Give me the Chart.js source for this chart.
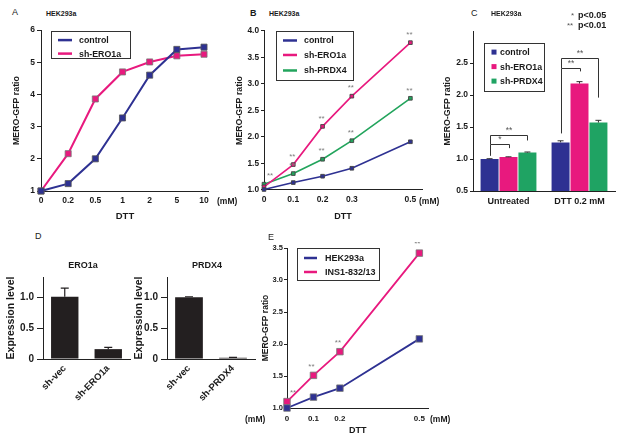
<!DOCTYPE html>
<html><head><meta charset="utf-8">
<script src="https://cdn.jsdelivr.net/npm/chart.js@4.4.1/dist/chart.umd.min.js"></script>
<style>
html,body{margin:0;padding:0;background:#fff;}
#root{position:relative;width:625px;height:442px;overflow:hidden;background:#fff;}
canvas{position:absolute;}
</style></head>
<body><div id="root"></div>
<script>
// ---------------- DATA ----------------
// Panel A
const doseLabelsA = ['0','0.2','0.5','1','2','5','10'];
const controlA = [1.0, 1.23, 2.0, 3.27, 4.6, 5.4, 5.47];
const ero1aA   = [1.0, 2.16, 3.86, 4.7, 5.01, 5.2, 5.25];
// Panel B
const doseB    = [0, 0.1, 0.2, 0.3, 0.5];
const controlB = [1.01, 1.14, 1.26, 1.41, 1.91];
const ero1aB   = [1.06, 1.48, 2.20, 2.77, 3.78];
const prdx4B   = [1.11, 1.31, 1.58, 1.93, 2.73];
const ero1aSigB = ['', '**', '**', '**', '**'];
const prdx4SigB = ['**', '**', '**', '**', '**'];
// Panel C
const groupsC   = ['Untreated', 'DTT 0.2 mM'];
const controlC  = [1.0, 1.26];
const ero1aC    = [1.03, 2.18];
const prdx4C    = [1.10, 1.57];
const controlErrC = [0.005, 0.025];
const ero1aErrC   = [0.005, 0.03];
const prdx4ErrC   = [0.01, 0.035];
// brackets: [group, fromSeries, toSeries, topValue, leftEndValue, rightEndValue, label]
const bracketsC = [
  [0, 0, 1, 1.23, 1.05, 1.17, '*'],
  [0, 0, 2, 1.37, 1.23, 1.29, '**'],
  [1, 0, 1, 2.42, 1.40, 2.37, '**'],
  [1, 0, 2, 2.58, 2.42, 1.96, '**']
];
// Panel D
const labelsD1 = ['sh-vec', 'sh-ERO1a'];
const valuesD1 = [1.01, 0.16];
const errD1    = [0.14, 0.03];
const labelsD2 = ['sh-vec', 'sh-PRDX4'];
const valuesD2 = [1.0, 0.02];
const errD2    = [0.01, 0.005];
// Panel E
const doseE  = [0, 0.1, 0.2, 0.5];
const hekE   = [1.0, 1.17, 1.31, 2.08];
const ins1E  = [1.10, 1.51, 1.88, 3.42];
const ins1SigE = ['**', '**', '**', '**'];

// ---------------- STYLE ----------------
const FONT = "'Liberation Sans', Arial, Helvetica, sans-serif";
const BLUE = '#2e3192', MAG = '#e8197e', GREEN = '#22a45c', GREENC = '#1fa363';
Chart.defaults.font.family = FONT;
Chart.defaults.color = '#1a1a1a';
const root = document.getElementById('root');

function text(t, x, y, size, o = {}) {
  const d = document.createElement('div');
  d.textContent = t;
  d.style.cssText = `position:absolute;white-space:nowrap;font:${o.bold ? 'bold ' : ''}${size}px ${FONT};` +
    `line-height:${size * 1.2}px;top:${y - size * 0.6}px;left:${x}px;color:${o.color || '#1a1a1a'};`;
  if (o.center) d.style.transform = 'translateX(-50%)';
  root.appendChild(d);
}

// ---------------- PLUGINS ----------------
const boxLegend = {
  id: 'boxLegend',
  afterDatasetsDraw(chart, args, o) {
    if (!o || !o.box) return;
    const { ctx, chartArea: a } = chart;
    ctx.save();
    const [bx, by, bw, bh] = o.box;
    ctx.fillStyle = '#fff';
    ctx.fillRect(a.left + bx, a.top + by, bw, bh);
    ctx.strokeStyle = '#333'; ctx.lineWidth = 1;
    ctx.strokeRect(Math.round(a.left + bx) + 0.5, Math.round(a.top + by) + 0.5, bw, bh);
    ctx.font = `bold ${o.size}px ${FONT}`;
    ctx.textBaseline = 'middle';
    chart.data.datasets.forEach((ds, i) => {
      const y = a.top + o.rows[i];
      if (o.type === 'line') {
        ctx.strokeStyle = ds.borderColor; ctx.lineWidth = 2.5;
        ctx.beginPath(); ctx.moveTo(a.left + o.sample[0], y); ctx.lineTo(a.left + o.sample[1], y); ctx.stroke();
      } else {
        ctx.fillStyle = ds.backgroundColor;
        const s = o.sq;
        ctx.fillRect(a.left + o.sample[0] - s / 2, y - s / 2, s, s);
      }
      ctx.fillStyle = '#1a1a1a';
      ctx.fillText(ds.label, a.left + o.text, y + 0.5);
    });
    ctx.restore();
  }
};

const sigMarks = {
  id: 'sigMarks',
  afterDatasetsDraw(chart, args, o) {
    if (!o || !o.on) return;
    const { ctx, chartArea: a } = chart;
    ctx.save();
    ctx.font = `${o.size}px ${FONT}`;
    ctx.fillStyle = '#7d7d7d';
    ctx.textAlign = 'center'; ctx.textBaseline = 'middle';
    chart.data.datasets.forEach((ds, i) => {
      if (!ds.sig) return;
      const meta = chart.getDatasetMeta(i);
      meta.data.forEach((pt, j) => {
        const s = ds.sig[j]; if (!s) return;
        const w = ctx.measureText(s).width;
        let x = pt.x + o.dx;
        if (x - w / 2 < a.left + 1) x = a.left + 3 + w / 2;
        ctx.fillText(s, x, pt.y + o.dy);
      });
    });
    ctx.restore();
  }
};

const errBars = {
  id: 'errBars',
  afterDatasetsDraw(chart, args, o) {
    if (!o || !o.on) return;
    const { ctx } = chart;
    const ys = chart.scales.y;
    ctx.save();
    ctx.strokeStyle = o.color; ctx.lineWidth = o.width;
    chart.data.datasets.forEach((ds, i) => {
      if (!ds.err) return;
      const meta = chart.getDatasetMeta(i);
      meta.data.forEach((bar, j) => {
        const top = ys.getPixelForValue(ds.data[j] + ds.err[j]);
        ctx.beginPath();
        ctx.moveTo(bar.x, bar.y); ctx.lineTo(bar.x, top);
        ctx.moveTo(bar.x - o.cap, top); ctx.lineTo(bar.x + o.cap, top);
        ctx.stroke();
      });
    });
    ctx.restore();
  }
};

const brackets = {
  id: 'brackets',
  afterDatasetsDraw(chart, args, o) {
    if (!o || !o.list) return;
    const { ctx } = chart;
    const ys = chart.scales.y;
    ctx.save();
    ctx.strokeStyle = '#333'; ctx.lineWidth = 1;
    ctx.fillStyle = '#555';
    ctx.font = `${o.size}px ${FONT}`;
    ctx.textAlign = 'center'; ctx.textBaseline = 'bottom';
    o.list.forEach(b => {
      const [g, d1, d2, top, e1, e2, lab] = b;
      const x1 = Math.round(chart.getDatasetMeta(d1).data[g].x) + 0.5;
      const x2 = Math.round(chart.getDatasetMeta(d2).data[g].x) + 0.5;
      const yt = Math.round(ys.getPixelForValue(top)) + 0.5;
      ctx.beginPath();
      ctx.moveTo(x1, ys.getPixelForValue(e1)); ctx.lineTo(x1, yt);
      ctx.lineTo(x2, yt); ctx.lineTo(x2, ys.getPixelForValue(e2));
      ctx.stroke();
      ctx.fillText(lab, (x1 + x2) / 2, yt - 1);
    });
    ctx.restore();
  }
};

// ---------------- HELPERS ----------------
function makeChart(area, yw, xh, pt, pr, config) {
  const left = area[0] - yw, top = area[1] - pt;
  const w = area[2] - area[0] + yw + pr, h = area[3] - area[1] + pt + xh;
  const c = document.createElement('canvas');
  c.width = w; c.height = h;
  c.style.left = left + 'px'; c.style.top = top + 'px';
  c.style.width = w + 'px'; c.style.height = h + 'px';
  root.appendChild(c);
  const opt = config.options;
  opt.responsive = false; opt.animation = false; opt.devicePixelRatio = 1;
  opt.layout = { padding: { top: pt, right: pr, left: 0, bottom: 0 } };
  opt.plugins = Object.assign({ legend: { display: false }, tooltip: { enabled: false } }, opt.plugins || {});
  opt.scales.x.afterFit = s => { s.height = xh; };
  opt.scales.y.afterFit = s => { s.width = yw; };
  config.plugins = [boxLegend, sigMarks, errBars, brackets];
  return new Chart(c, config);
}
const border = { display: true, color: '#222', width: 1 };
function gridY(len) { return { display: true, drawOnChartArea: false, drawTicks: true, tickLength: len, tickColor: '#222' }; }
function gridX(len) { return { display: true, drawOnChartArea: false, drawTicks: true, tickLength: len, tickColor: 'rgba(0,0,0,0)' }; }
const f = (s, b = true) => ({ size: s, weight: b ? 'bold' : 'normal', family: FONT });

// ---------------- PANEL A ----------------
makeChart([41, 29, 210, 191], 41, 34, 6, 4, {
  type: 'line',
  data: {
    datasets: [
      { label: 'control', data: controlA.map((v, i) => ({ x: i, y: v })), borderColor: BLUE, backgroundColor: BLUE,
        borderWidth: 2, pointStyle: 'rect', pointRadius: 4.3, pointBorderColor: '#555', pointBorderWidth: 0.8, tension: 0, clip: false },
      { label: 'sh-ERO1a', data: ero1aA.map((v, i) => ({ x: i, y: v })), borderColor: MAG, backgroundColor: MAG,
        borderWidth: 2, pointStyle: 'rect', pointRadius: 4.3, pointBorderColor: '#777', pointBorderWidth: 0.8, tension: 0, clip: false }
    ]
  },
  options: {
    plugins: { boxLegend: { box: [10, 1, 79, 27], rows: [10, 23.5], sample: [17, 31], text: 38, type: 'line', size: 8.8 } },
    scales: {
      x: { type: 'linear', min: 0, max: 6.18, border, grid: gridX(4),
        afterBuildTicks: s => { s.ticks = doseLabelsA.map((_, i) => ({ value: i })); },
        ticks: { font: f(8.5), padding: 1, maxRotation: 0, autoSkip: false, callback: v => doseLabelsA[v] },
        title: { display: true, text: 'DTT', font: f(9.5), padding: { top: 0, bottom: 2.5 } } },
      y: { type: 'linear', min: 1, max: 6, border, grid: gridY(4),
        ticks: { font: f(8.5), padding: 2, stepSize: 1 },
        title: { display: true, text: 'MERO-GFP ratio', font: f(8.8), padding: { top: 11, bottom: 0 } } }
    }
  }
});

// ---------------- PANEL B ----------------
const bPoint = { pointStyle: 'rect', pointRadius: 2.6, pointBorderColor: '#444', pointBorderWidth: 0.9, tension: 0, clip: false, borderWidth: 1.6 };
makeChart([264, 30, 425, 190], 34, 34, 6, 2, {
  type: 'line',
  data: {
    datasets: [
      Object.assign({ label: 'control', data: controlB.map((v, i) => ({ x: doseB[i], y: v })), borderColor: BLUE, backgroundColor: BLUE }, bPoint),
      Object.assign({ label: 'sh-ERO1a', data: ero1aB.map((v, i) => ({ x: doseB[i], y: v })), borderColor: MAG, backgroundColor: MAG, sig: ero1aSigB }, bPoint),
      Object.assign({ label: 'sh-PRDX4', data: prdx4B.map((v, i) => ({ x: doseB[i], y: v })), borderColor: GREEN, backgroundColor: GREEN, sig: prdx4SigB }, bPoint)
    ]
  },
  options: {
    plugins: {
      boxLegend: { box: [12, 0, 77, 49], rows: [9.5, 24, 39.5], sample: [19, 33], text: 40, type: 'line', size: 8.8 },
      sigMarks: { on: true, dx: -1, dy: -8, size: 8 }
    },
    scales: {
      x: { type: 'linear', min: 0, max: 0.54, border, grid: gridX(4),
        afterBuildTicks: s => { s.ticks = doseB.map(v => ({ value: v })); },
        ticks: { font: f(8.5), padding: 1, maxRotation: 0, autoSkip: false, callback: v => String(v) },
        title: { display: true, text: 'DTT', font: f(9), padding: { top: 0, bottom: 1.6 } } },
      y: { type: 'linear', min: 1, max: 4, border, grid: gridY(3),
        ticks: { font: f(8.3), padding: 2, stepSize: 0.5, callback: v => v.toFixed(1) },
        title: { display: true, text: 'MERO-GFP ratio', font: f(8.8), padding: { top: 4.6, bottom: 0 } } }
    }
  }
});

// ---------------- PANEL C ----------------
makeChart([473, 30, 615, 191], 34, 22, 6, 2, {
  type: 'bar',
  data: {
    labels: groupsC,
    datasets: [
      { label: 'control', data: controlC, err: controlErrC, backgroundColor: BLUE, barPercentage: 0.95, categoryPercentage: 0.8 },
      { label: 'sh-ERO1a', data: ero1aC, err: ero1aErrC, backgroundColor: MAG, barPercentage: 0.95, categoryPercentage: 0.8 },
      { label: 'sh-PRDX4', data: prdx4C, err: prdx4ErrC, backgroundColor: GREENC, barPercentage: 0.95, categoryPercentage: 0.8 }
    ]
  },
  options: {
    plugins: {
      boxLegend: { box: [11, 12, 60, 48], rows: [21, 35.5, 50], sample: [21, 0], sq: 5, text: 27, type: 'square', size: 8.8 },
      errBars: { on: true, color: '#333', width: 1, cap: 3 },
      brackets: { list: bracketsC, size: 8.5 }
    },
    scales: {
      x: { type: 'category', border, grid: gridX(4), ticks: { font: f(9), padding: 1, maxRotation: 0, autoSkip: false } },
      y: { type: 'linear', min: 0.5, max: 3.0, border, grid: gridY(3),
        afterBuildTicks: s => { s.ticks = s.ticks.filter(t => t.value <= 2.5 + 1e-9); },
        ticks: { font: f(8.5), padding: 2, stepSize: 0.5, callback: v => v.toFixed(1) },
        title: { display: true, text: 'MERO-GFP ratio', font: f(8.8), padding: { top: 2.8, bottom: 0 } } }
    }
  }
});

// ---------------- PANEL D ----------------
function dChart(area, yw, titlePad, labels, values, errs) {
  makeChart(area, yw, 44, 4, 3, {
    type: 'bar',
    data: { labels, datasets: [{ label: 'Expression level', data: values, err: errs, backgroundColor: '#231f20', barPercentage: 0.63, categoryPercentage: 1 }] },
    options: {
      plugins: { errBars: { on: true, color: '#231f20', width: 1.2, cap: 4 } },
      scales: {
        x: { type: 'category', border, grid: gridX(3),
          ticks: { font: f(9.5), padding: 1, minRotation: 45, maxRotation: 45, autoSkip: false } },
        y: { type: 'linear', min: 0, max: 1.33, border, grid: gridY(6),
          afterBuildTicks: s => { s.ticks = s.ticks.filter(t => t.value <= 1.0 + 1e-9); },
          ticks: { font: f(10), padding: 3, stepSize: 0.5, callback: v => v === 0 ? '0' : v.toFixed(1) },
          title: { display: true, text: 'Expression level', font: f(10.5), padding: { top: titlePad, bottom: 0 } } }
      }
    }
  });
}
dChart([43, 272, 130, 359], 43, 4.7, labelsD1, valuesD1, errD1);
dChart([167, 272, 255, 359], 38, 3.7, labelsD2, valuesD2, errD2);

// ---------------- PANEL E ----------------
const ePoint = { pointStyle: 'rect', pointRadius: 4.6, pointBorderColor: '#777', pointBorderWidth: 0.8, tension: 0, clip: false, borderWidth: 1.8 };
makeChart([287, 248, 430, 408], 30, 30, 6, 4, {
  type: 'line',
  data: {
    datasets: [
      Object.assign({ label: 'HEK293a', data: hekE.map((v, i) => ({ x: doseE[i], y: v })), borderColor: BLUE, backgroundColor: BLUE }, ePoint),
      Object.assign({ label: 'INS1-832/13', data: ins1E.map((v, i) => ({ x: doseE[i], y: v })), borderColor: MAG, backgroundColor: MAG, sig: ins1SigE }, ePoint)
    ]
  },
  options: {
    plugins: {
      boxLegend: { box: [10, 0, 82, 32], rows: [10, 24], sample: [17, 30], text: 38, type: 'line', size: 9 },
      sigMarks: { on: true, dx: -2, dy: -9, size: 8 }
    },
    scales: {
      x: { type: 'linear', min: 0, max: 0.535, border, grid: gridX(3),
        afterBuildTicks: s => { s.ticks = doseE.map(v => ({ value: v })); },
        ticks: { font: f(8), padding: 3, maxRotation: 0, autoSkip: false, callback: v => String(v) },
        title: { display: true, text: 'DTT', font: f(9), padding: { top: 0, bottom: 1.6 } } },
      y: { type: 'linear', min: 1, max: 3.5, border, grid: gridY(3),
        ticks: { font: f(7.5), padding: 1, stepSize: 0.5, callback: v => v.toFixed(1) },
        title: { display: true, text: 'MERO-GFP ratio', font: f(8.5), padding: { top: 3.9, bottom: 0 } } }
    }
  }
});

// ---------------- FREE TEXT ----------------
text('A', 12, 12, 9);
text('HEK293a', 46, 14, 7, { bold: true });
text('(mM)', 217, 201, 8.5, { bold: true });
text('B', 250, 13, 9, { bold: true });
text('HEK293a', 269, 14, 7, { bold: true });
text('(mM)', 419, 201, 8.5, { bold: true });
text('C', 471, 13, 9);
text('HEK293a', 491, 14, 7, { bold: true });
text('*', 571, 16, 8, { color: '#555' });
text('p<0.05', 578, 15, 9, { bold: true });
text('**', 567, 26, 8, { color: '#555' });
text('p<0.01', 578, 25, 9, { bold: true });
text('D', 35, 236, 9);
text('ERO1a', 83, 265, 9, { bold: true, center: true });
text('PRDX4', 207, 265, 9, { bold: true, center: true });
text('E', 268, 237, 9);
text('(mM)', 245, 419, 8.5, { bold: true });
text('(mM)', 430, 419, 8.5, { bold: true });
</script></body></html>
